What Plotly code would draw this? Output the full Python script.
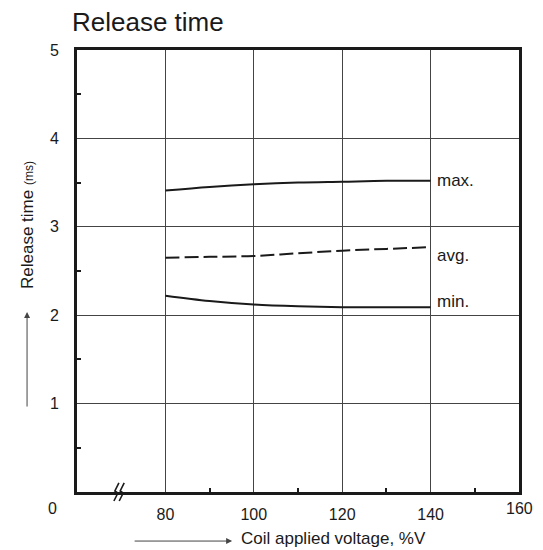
import plotly.graph_objects as go

volts = [80, 90, 100, 110, 120, 130, 140]
rt_max = [3.41, 3.45, 3.48, 3.50, 3.51, 3.52, 3.52]
rt_avg = [2.65, 2.66, 2.67, 2.70, 2.73, 2.75, 2.77]
rt_min = [2.22, 2.16, 2.12, 2.10, 2.09, 2.09, 2.09]

x_ticks = [80, 100, 120, 140]
y_ticks = [1, 2, 3, 4, 5]

FONT = "Arial, Liberation Sans, sans-serif"
INK = "#1a1a1a"

fig = go.Figure()
fig.add_trace(go.Scatter(x=volts, y=rt_max, mode="lines", line=dict(color=INK, width=2, shape="spline"), showlegend=False))
fig.add_trace(go.Scatter(x=volts, y=rt_avg, mode="lines", line=dict(color=INK, width=2, shape="spline", dash="14px,5px"), showlegend=False))
fig.add_trace(go.Scatter(x=volts, y=rt_min, mode="lines", line=dict(color=INK, width=2, shape="spline"), showlegend=False))

for name, ser, ys in [("max.", rt_max, 0), ("avg.", rt_avg, -8), ("min.", rt_min, 6)]:
    fig.add_annotation(x=volts[-1], y=ser[-1], text=name, showarrow=False, xanchor="left",
                       xshift=4, yshift=ys, font=dict(size=17, color=INK, family=FONT))

# last x tick label (sits slightly higher in the reference)
fig.add_annotation(x=160, y=0, text="160", showarrow=False, xanchor="center", yanchor="middle",
                   yshift=-16, font=dict(size=16, color=INK, family=FONT))
# origin label
fig.add_annotation(x=0, y=0, xref="paper", yref="paper", text="0", showarrow=False,
                   xanchor="center", yanchor="middle", xshift=-25, yshift=-16,
                   font=dict(size=16, color=INK, family=FONT))

# axis titles
fig.add_annotation(x=0, y=0.5, xref="paper", yref="paper",
                   text="Release time <span style='font-size:12px'>(ms)</span>",
                   showarrow=False, textangle=-90, xanchor="center", yanchor="middle",
                   xshift=-50, yshift=46, font=dict(size=17, color=INK, family=FONT))
fig.add_annotation(x=0.5, y=0, xref="paper", yref="paper",
                   text="Coil applied voltage, %V", showarrow=False,
                   xanchor="center", yanchor="middle", xshift=35, yshift=-46,
                   font=dict(size=17, color=INK, family=FONT))

# arrows next to titles
fig.add_annotation(x=-0.113, y=0.407, ax=-0.113, ay=0.19, xref="x domain", yref="y domain",
                   axref="x domain", ayref="y domain", text="", showarrow=True,
                   arrowhead=2, arrowsize=1.2, arrowwidth=1, arrowcolor="#444")
fig.add_annotation(x=0.351, y=-0.111, ax=0.127, ay=-0.111, xref="x domain", yref="y domain",
                   axref="x domain", ayref="y domain", text="", showarrow=True,
                   arrowhead=2, arrowsize=1.2, arrowwidth=1, arrowcolor="#444")

# axis break symbol (two slanted zig-zags crossing the x axis)
PX = 1 / 442.0
for cx in [0.088, 0.100]:
    pts = [(3, 9), (-1, 1), (2, -1), (-2, -9)]
    path = "M " + " L ".join(f"{cx + a * PX:.4f} {b * PX:.4f}" for a, b in pts)
    fig.add_shape(type="path", xref="paper", yref="paper", path=path, line=dict(color=INK, width=1.6))

fig.update_layout(
    width=535, height=542,
    margin=dict(l=69, r=24, t=42, b=58),
    paper_bgcolor="white", plot_bgcolor="white",
    title=dict(text="Release time", x=64 / 535, xanchor="left", y=1 - 14 / 542, yanchor="middle",
               font=dict(size=26, color=INK, family=FONT)),
    font=dict(family=FONT, color=INK, size=16),
)
fig.update_xaxes(range=[60, 160], tickvals=x_ticks, ticktext=[str(v) for v in x_ticks],
                 showgrid=True, gridcolor="#444", gridwidth=1,
                 showline=True, linecolor=INK, linewidth=3, mirror=True,
                 ticks="", ticklabelstandoff=6, zeroline=False,
                 minor=dict(tickvals=[90, 110, 130, 150], ticks="inside", ticklen=4, tickwidth=2,
                            tickcolor=INK, showgrid=False),
                 tickfont=dict(size=16, color=INK, family=FONT))
fig.update_yaxes(range=[0, 5], tickvals=y_ticks, ticktext=[str(v) for v in y_ticks],
                 showgrid=True, gridcolor="#444", gridwidth=1,
                 showline=True, linecolor=INK, linewidth=3, mirror=True,
                 ticks="", ticklabelstandoff=12, zeroline=False,
                 minor=dict(tickvals=[0.5, 1.5, 2.5, 3.5, 4.5], ticks="inside", ticklen=4, tickwidth=2,
                            tickcolor=INK, showgrid=False),
                 tickfont=dict(size=16, color=INK, family=FONT))

fig.write_html("out.html")
